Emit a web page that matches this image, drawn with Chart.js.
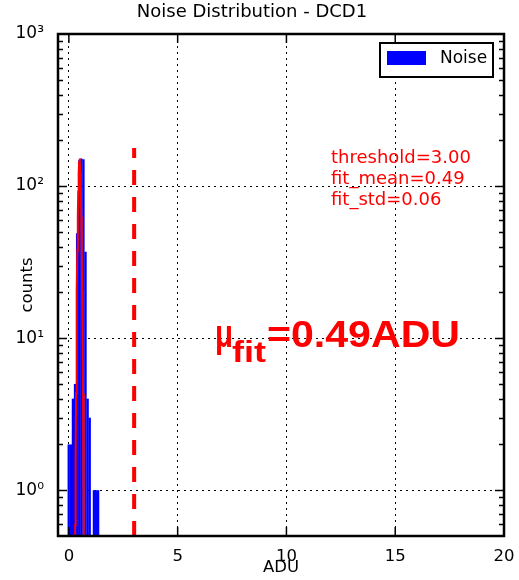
<!DOCTYPE html>
<html lang="en">
  <head>
    <meta charset="UTF-8" />
    <title>Noise Distribution - DCD1</title>
    <style>
      body {
        margin: 0;
        background: #ffffff;
      }
      canvas {
        display: block;
      }
    </style>
    <script src="https://cdn.jsdelivr.net/npm/chart.js"></script>
  </head>
  <body>
    <canvas id="noiseChart" width="519" height="580"></canvas>

    <script>
      // histogram bins (ADU) and counts
      const binCenters = [-0.007, 0.090, 0.186, 0.283, 0.379, 0.476, 0.572, 0.669, 0.765, 0.862, 0.958, 1.055, 1.151, 1.248, 1.344];
      const binCounts = [2, 2, 4, 5, 49, 148, 152, 150, 37, 4, 3, null, 1, 1, 1];

      // gaussian fit, mean 0.49, std 0.06
      const fitX = [0.27, 0.29, 0.31, 0.33, 0.35, 0.37, 0.39, 0.41, 0.43, 0.45, 0.47, 0.49,
                    0.51, 0.53, 0.55, 0.57, 0.59, 0.61, 0.63, 0.65, 0.67, 0.69, 0.71];
      const fitY = [0.18, 0.59, 1.69, 4.34, 10.0, 20.6, 37.9, 62.5, 92.2, 121.7, 143.8, 152,
                    143.8, 121.7, 92.2, 62.5, 37.9, 20.6, 10.0, 4.34, 1.69, 0.59, 0.18];

      // threshold marker
      const thresholdX = [3, 3];
      const thresholdY = [0.5, 178];

      const xTickValues = [0, 5, 10, 15, 20];
      const yTickValues = [1, 10, 100, 1000];
      const yTickLabels = ["10⁰", "10¹", "10²", "10³"];

      const fitLines = ["threshold=3.00", "fit_mean=0.49", "fit_std=0.06"];

      const toPoints = (xs, ys) => xs.map((x, i) => ({ x: x, y: ys[i] }));

      // inward ticks, frame, legend and the red notes
      const axesDecor = {
        id: "axesDecor",
        afterDraw(chart) {
          const { ctx, chartArea: a, scales } = chart;
          const x = scales.x;
          const y = scales.y;
          ctx.save();
          ctx.strokeStyle = "#000";
          ctx.lineWidth = 1.5;
          ctx.beginPath();
          xTickValues.forEach((v) => {
            const px = x.getPixelForValue(v);
            ctx.moveTo(px, a.bottom);
            ctx.lineTo(px, a.bottom - 9);
            ctx.moveTo(px, a.top);
            ctx.lineTo(px, a.top + 9);
          });
          for (let d = 0.1; d < 1000; d *= 10) {
            for (let m = 1; m <= 9; m++) {
              const v = m * d;
              if (v <= y.min || v >= y.max) continue;
              const py = Math.round(y.getPixelForValue(v)) + 0.5;
              const len = m === 1 ? 9 : 5;
              ctx.moveTo(a.left, py);
              ctx.lineTo(a.left + len, py);
              ctx.moveTo(a.right, py);
              ctx.lineTo(a.right - len, py);
            }
          }
          ctx.stroke();

          ctx.lineWidth = 2.5;
          ctx.strokeRect(a.left, a.top, a.right - a.left, a.bottom - a.top);

          // legend box
          const ds = chart.data.datasets[2];
          const lx = a.right - 124;
          const ly = a.top + 9;
          ctx.fillStyle = "#fff";
          ctx.fillRect(lx, ly, 113, 34);
          ctx.lineWidth = 2;
          ctx.strokeRect(lx, ly, 113, 34);
          ctx.fillStyle = ds.backgroundColor;
          ctx.fillRect(lx + 7, ly + 8, 39, 14);
          ctx.fillStyle = "#000";
          ctx.font = "17px 'DejaVu Sans'";
          ctx.textBaseline = "middle";
          ctx.fillText(ds.label, lx + 60, ly + 16);

          // fit summary
          ctx.fillStyle = "#ff0000";
          ctx.textBaseline = "alphabetic";
          ctx.font = "18px 'DejaVu Sans'";
          fitLines.forEach((t, i) => ctx.fillText(t, 331, 163 + i * 21));

          const boldText = (text, left, base, width, size) => {
            ctx.font = "bold " + size + "px 'Liberation Sans', Arial";
            const w = ctx.measureText(text).width;
            ctx.save();
            ctx.translate(left, base);
            ctx.scale(width / w, 1);
            ctx.fillText(text, 0, 0);
            ctx.restore();
          };
          boldText("μ", 215, 347, 18, 38);
          boldText("fit", 232, 362, 34, 30);
          boldText("=0.49ADU", 267, 347, 193, 37);
          ctx.restore();
        },
      };

      const ctx = document.getElementById("noiseChart").getContext("2d");

      new Chart(ctx, {
        type: "bar",
        data: {
          datasets: [
            {
              type: "line",
              label: "threshold",
              data: toPoints(thresholdX, thresholdY),
              borderColor: "#ff0000",
              borderWidth: 4,
              borderDash: [15, 12],
              pointRadius: 0,
              order: 1,
            },
            {
              type: "line",
              label: "fit",
              data: toPoints(fitX, fitY),
              borderColor: "#ff0000",
              borderWidth: 2,
              pointRadius: 0,
              order: 2,
            },
            {
              type: "bar",
              label: "Noise",
              data: toPoints(binCenters, binCounts),
              backgroundColor: "#0000ff",
              borderWidth: 0,
              barPercentage: 1.12,
              categoryPercentage: 1,
              order: 3,
            },
          ],
        },
        options: {
          responsive: false,
          animation: false,
          events: [],
          layout: { padding: { left: 0, right: 15, top: 0, bottom: 0 } },
          plugins: {
            legend: { display: false },
            tooltip: { enabled: false },
            title: {
              display: true,
              text: "Noise Distribution - DCD1",
              color: "#000",
              font: { family: "DejaVu Sans", size: 18, weight: "normal" },
              padding: { top: 2, bottom: 10.4 },
            },
          },
          scales: {
            x: {
              type: "linear",
              min: -0.5,
              max: 20,
              offset: false,
              z: 1,
              afterBuildTicks: (s) => {
                s.ticks = xTickValues.map((v) => ({ value: v }));
              },
              afterFit: (s) => {
                s.height = 44;
                s.paddingLeft = 0;
                s.paddingRight = 0;
              },
              ticks: {
                color: "#000",
                font: { family: "DejaVu Sans", size: 16.5 },
                padding: 11,
                maxRotation: 0,
                autoSkip: false,
              },
              grid: { color: "#000", lineWidth: 1, drawTicks: false, offset: false },
              border: { display: false, dash: [2, 4] },
              title: {
                display: true,
                text: "ADU",
                color: "#000",
                font: { family: "DejaVu Sans", size: 16.5 },
                padding: { top: 0, bottom: 2 },
              },
            },
            y: {
              type: "logarithmic",
              min: 0.5,
              max: 1000,
              z: 1,
              afterBuildTicks: (s) => {
                s.ticks = yTickValues.map((v) => ({ value: v }));
              },
              afterFit: (s) => {
                s.width = 58;
                s.paddingTop = 0;
                s.paddingBottom = 0;
              },
              ticks: {
                color: "#000",
                font: { family: "DejaVu Sans", size: 17 },
                padding: 14,
                autoSkip: false,
                callback: (v) => yTickLabels[yTickValues.indexOf(v)],
              },
              grid: { color: "#000", lineWidth: 1, drawTicks: false },
              border: { display: false, dash: [2, 4] },
              title: {
                display: true,
                text: "counts",
                color: "#000",
                font: { family: "DejaVu Sans", size: 16.5 },
                padding: { top: 18, bottom: 0 },
              },
            },
          },
        },
        plugins: [axesDecor],
      });
    </script>
  </body>
</html>
